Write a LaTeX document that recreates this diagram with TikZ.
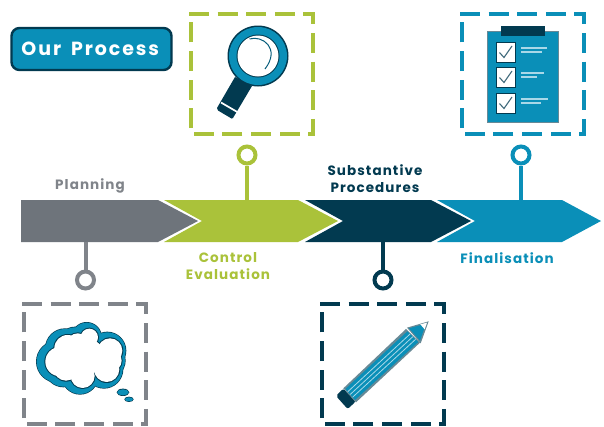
\documentclass[tikz,border=0pt]{standalone}
\usepackage{fontspec}
\usetikzlibrary{calc}
\setmainfont{Poppins}
\newfontfamily\labfont[LetterSpace=8]{Poppins}
\newfontfamily\titlefont[LetterSpace=10]{Poppins}
\definecolor{cblue}{HTML}{0A8FB8}
\definecolor{cnavy}{HTML}{023A50}
\definecolor{cgreen}{HTML}{AAC23A}
\definecolor{cgray}{HTML}{6E747B}
\definecolor{cgrayb}{HTML}{80848A}
\definecolor{clight}{HTML}{A9D8E8}
\tikzset{
  band/.style={fill=#1,draw=none},
  dashbox/.style={draw=#1,line width=4pt,dash pattern=on 20pt off 8.6pt,line cap=butt,fill=none},
  stem/.style={draw=#1,line width=4pt},
  knob/.style={circle,draw=#1,line width=4pt,fill=white,minimum size=17pt,inner sep=0pt},
  lab/.style={text=#1,font=\labfont\fontsize{13.5}{16.5}\selectfont\bfseries,align=center,inner sep=0pt},
}
\begin{document}
\begin{tikzpicture}[x=1pt,y=-1pt]
\useasboundingbox[fill=white] (0,0) rectangle (604,426);
% bands
\path[band=cblue] (437,200) -- (562,200) -- (601,221) -- (562,242) -- (437,242) -- (475,221) -- cycle;
\path[band=cnavy] (305,200) -- (431,200) -- (471,221) -- (431,242) -- (305,242) -- (343,221) -- cycle;
\path[band=cgreen] (164,200) -- (298,200) -- (338,221) -- (298,242) -- (164,242) -- (202,221) -- cycle;
\path[band=cgray] (21,200) -- (158,200) -- (198,221) -- (158,242) -- (21,242) -- cycle;
% connectors
\coordinate (a1) at (85.5,242); \coordinate (a2) at (247,200);
\coordinate (a3) at (383,242); \coordinate (a4) at (521,200);
\node[knob=cgrayb] (k1) at (85.5,280) {};
\node[knob=cgreen] (k2) at (247,155) {};
\node[knob=cnavy] (k3) at (383,280) {};
\node[knob=cblue] (k4) at (521,155) {};
\draw[stem=cgrayb] (a1) -- (k1);
\draw[stem=cgreen] (a2) -- (k2);
\draw[stem=cnavy] (a3) -- (k3);
\draw[stem=cblue] (a4) -- (k4);
% dashed boxes
\draw[dashbox=cgreen] (189,14) -- (313,14) -- (313,134) -- (191,134) -- (191,14);
\draw[dashbox=cblue] (460,14) -- (584,14) -- (584,134) -- (462,134) -- (462,14);
\draw[dashbox=cgrayb] (22,304) -- (146,304) -- (146,424) -- (24,424) -- (24,304);
\draw[dashbox=cnavy] (320,304) -- (444,304) -- (444,424) -- (322,424) -- (322,304);
% title
\node[fill=cblue,draw=cnavy,line width=2.4pt,rounded corners=8pt,minimum width=160pt,minimum height=42pt,inner sep=0pt,text=white,font=\titlefont\fontsize{19}{22}\selectfont\bfseries] (title) at (91.5,49) {\hspace{-2.5pt}Our\hspace{10pt}Process};
% labels
\node[lab=cgrayb] (l1) at (90,186) {Planning};
\node[lab=cgreen] (l2) at (228,266) {Control\\Evaluation};
\node[lab=cnavy] (l3) at (375,178.5) {Substantive\\Procedures};
\node[lab=cblue] (l4) at (507,258) {Finalisation};
% magnifier
\fill[cnavy] (235,77) -- (252,86) -- (233,118) -- (231.5,118.5) -- (218,110.5) -- (217,108) -- cycle;
\draw[white,line width=1.7pt] (221,102.5) -- (239,113) ;
\fill[cnavy] (258,56) circle (30.5);
\fill[cblue] (258,56) circle (29);
\fill[cnavy] (258,56) circle (21.5);
\fill[white] (258,56) circle (20.5);
\draw[cblue!40!cnavy,line width=1pt] (249.5,39) .. controls (262,35) and (281,48) .. (265,69);
% clipboard
\fill[cnavy!60] (487,31) rectangle (558.5,122.5);
\fill[cblue] (488,32) rectangle (557.5,121.5);
\fill[cnavy] (501,26) rectangle (544.5,36);
\foreach \yy/\w/\ww [count=\i] in {42/547/542,67/544/537,93/548/541}{
  \fill[white,draw=cnavy,line width=1pt] (496.5,\yy) rectangle (515.5,\yy+20);
  \draw[cnavy!75,line width=1.1pt] (499.5,\yy+10.5) -- (504,\yy+15.5) -- (512,\yy+4);
  \draw[clight,line width=1.3pt] (521,\yy+6) -- (\w,\yy+6);
  \draw[clight,line width=1.3pt] (521,\yy+10) -- (\ww,\yy+10);
}
% cloud
\begin{scope}[shift={(0pt,-190pt)},x=0.3333pt,y=-0.3333pt]
  \def\lobes#1#2#3{
    \fill[#1] (260+#2,442) circle (44-#3);
    \fill[#1] (225+#2,462) circle (50-#3);
    \fill[#1] (195+#2,475) circle (58-#3);
    \fill[#1] (172+#2,515) circle (62-#3);
    \fill[#1] (190+#2,535) circle (55-#3);
    \fill[#1] (322+#2,482) circle (55-#3);
    \fill[#1] (325+#2,512) circle (50-#3);
    \fill[#1] (312+#2,538) circle (56-#3);
    \fill[#1] (240+#2,558) circle (54-#3);
    \fill[#1] (255+#2,500) circle (70-#3);
  }
  \lobes{cnavy}{0}{-2}
  \lobes{cblue}{0}{0}
  \lobes{cnavy}{8}{15}
  \lobes{white}{8}{18}
  \fill[cnavy] (369,607) ellipse (19 and 11);
  \fill[cblue] (369,607) ellipse (17 and 9);
  \fill[cnavy] (387,628) ellipse (14 and 8);
  \fill[cblue] (387,628) ellipse (12 and 6);
\end{scope}
% pencil
\begin{scope}[shift={(300pt,-190pt)},x=0.3333pt,y=-0.3333pt]
  \fill[cnavy,rounded corners=2pt] (108,618) -- (130,596) -- (167,635) -- (143,657) -- cycle;
  \fill[cnavy!60] (130,595) -- (318,417) -- (360,458) -- (168,637) -- cycle;
  \fill[cblue] (136,597) -- (322,424) -- (355,456) -- (165,630) -- cycle;
  \foreach \o in {0.25,0.5,0.75}{
    \draw[clight,line width=0.8pt] ($(136,597)!\o!(165,630)$) -- ($(322,424)!\o!(355,456)$);
  }
  \fill[cnavy!60] (321,413) -- (386,394) -- (362,460) -- cycle;
  \fill[cblue] (327,415) -- (378,401) -- (360,452) -- cycle;
  \fill[white] (361,403) -- (381,398) -- (374,418) -- cycle;
\end{scope}
\end{tikzpicture}
\end{document}
